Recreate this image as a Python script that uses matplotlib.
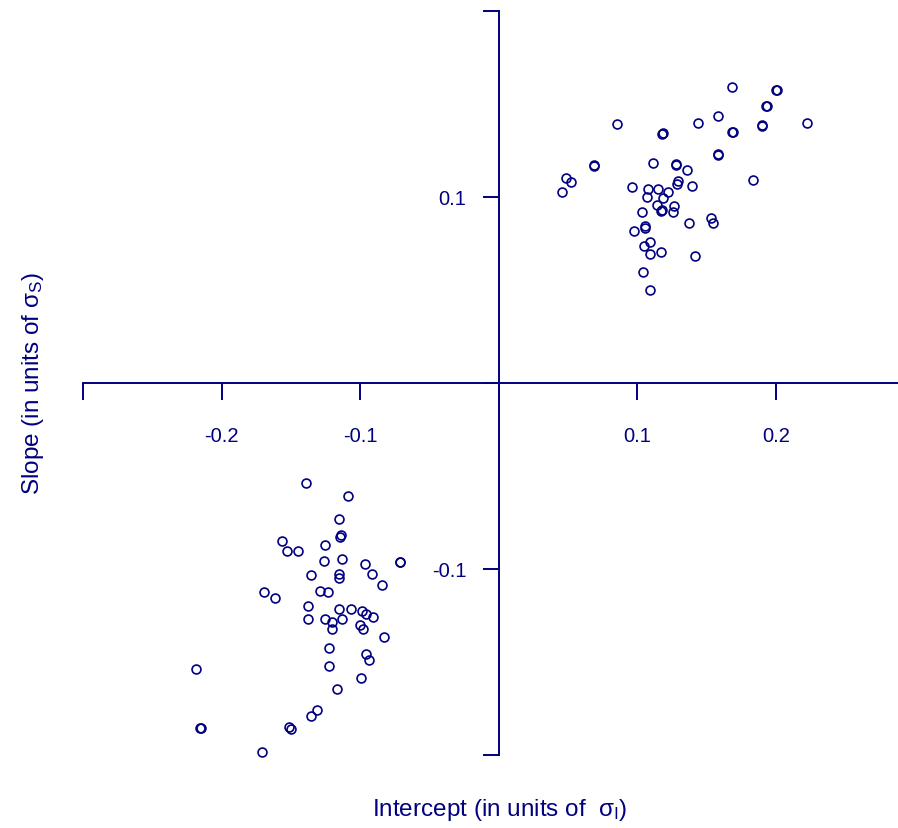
import numpy as np
import matplotlib.pyplot as plt

plt.rcParams['font.family'] = ['Liberation Sans', 'DejaVu Sans']
plt.rcParams['mathtext.fontset'] = 'custom'
plt.rcParams['mathtext.rm'] = 'Liberation Sans'
plt.rcParams['mathtext.it'] = 'Liberation Sans'

NAVY = '#000080'

# upper-right cluster (intercept, slope)
pos_intercept = [0.1685, 0.2001, 0.2005, 0.1931, 0.1934, 0.0856, 0.1440, 0.1580, 0.2222,
                 0.1180, 0.1183, 0.1685, 0.1688, 0.1898, 0.1901, 0.1580, 0.1583,
                 0.0685, 0.0689, 0.0482, 0.0518, 0.0458, 0.1113, 0.1277, 0.1280,
                 0.1359, 0.1837, 0.1296, 0.1286, 0.1392, 0.0962, 0.1079, 0.1152,
                 0.1219, 0.1066, 0.1185, 0.1144, 0.1266, 0.1175, 0.1169, 0.1254,
                 0.1032, 0.1369, 0.1532, 0.1544, 0.0974, 0.1056, 0.1052, 0.1094,
                 0.1050, 0.1089, 0.1171, 0.1414, 0.1043, 0.1089]
pos_slope = [0.1590, 0.1574, 0.1576, 0.1486, 0.1489, 0.1390, 0.1398, 0.1434, 0.1398,
             0.1337, 0.1340, 0.1347, 0.1350, 0.1382, 0.1385, 0.1225, 0.1228,
             0.1166, 0.1168, 0.1102, 0.1077, 0.1025, 0.1182, 0.1171, 0.1174,
             0.1146, 0.1092, 0.1083, 0.1071, 0.1060, 0.1051, 0.1042, 0.1042,
             0.1024, 0.0997, 0.0992, 0.0956, 0.0952, 0.0929, 0.0922, 0.0918,
             0.0919, 0.0861, 0.0888, 0.0859, 0.0815, 0.0841, 0.0831, 0.0756,
             0.0737, 0.0693, 0.0703, 0.0684, 0.0598, 0.0501]

# lower-left cluster
neg_intercept = [-0.1393, -0.1087, -0.1157, -0.1138, -0.1147, -0.1566, -0.1532, -0.1453,
                 -0.1253, -0.1263, -0.1136, -0.0970, -0.0714, -0.0712, -0.0914, -0.0844,
                 -0.1356, -0.1157, -0.1157, -0.1696, -0.1616, -0.1289, -0.1234, -0.1381,
                 -0.1381, -0.1157, -0.1066, -0.0986, -0.0962, -0.0912, -0.1253, -0.1203,
                 -0.1134, -0.1205, -0.1006, -0.0981, -0.0831, -0.1227, -0.1227, -0.0960,
                 -0.0936, -0.0996, -0.1169, -0.2189, -0.1311, -0.1356, -0.2155, -0.2153,
                 -0.1513, -0.1499, -0.1708]
neg_slope = [-0.0536, -0.0606, -0.0730, -0.0816, -0.0826, -0.0850, -0.0902, -0.0902,
             -0.0869, -0.0955, -0.0945, -0.0973, -0.0962, -0.0964, -0.1025, -0.1086,
             -0.1034, -0.1025, -0.1047, -0.1122, -0.1156, -0.1120, -0.1122, -0.1200,
             -0.1269, -0.1216, -0.1216, -0.1224, -0.1245, -0.1261, -0.1270, -0.1286,
             -0.1269, -0.1321, -0.1304, -0.1321, -0.1364, -0.1426, -0.1521, -0.1458,
             -0.1487, -0.1584, -0.1643, -0.1539, -0.1756, -0.1792, -0.1853, -0.1855,
             -0.1851, -0.1860, -0.1985]

x_ticks = [-0.3, -0.2, -0.1, 0.0, 0.1, 0.2]
x_labels = ['', '-0.2', '-0.1', '', '0.1', '0.2']
y_ticks = [-0.2, -0.1, 0.0, 0.1, 0.2]
y_labels = ['', '-0.1', '', '0.1', '']

fig = plt.figure(figsize=(8.98, 8.29), dpi=100)
ax = fig.add_axes([0.0928, 0.0881, 0.9072, 0.8978])
xmax = 0.2881
ax.set_xlim(-0.3, xmax)
ax.set_ylim(-0.2, 0.2)

for xs, ys in [(pos_intercept, pos_slope), (neg_intercept, neg_slope)]:
    ax.plot(xs, ys, 'o', ms=6.4, mfc='none', mec=NAVY, mew=1.2, clip_on=False)

for side in ['top', 'right']:
    ax.spines[side].set_visible(False)
ax.spines['left'].set_position(('data', 0))
ax.spines['bottom'].set_position(('data', 0))
ax.spines['left'].set_bounds(-0.2, 0.2)
ax.spines['bottom'].set_bounds(-0.3, xmax)
for side in ['left', 'bottom']:
    ax.spines[side].set_color(NAVY)
    ax.spines[side].set_linewidth(1.4)

ax.set_xticks(x_ticks)
ax.set_xticklabels(x_labels)
ax.set_yticks(y_ticks)
ax.set_yticklabels(y_labels)
ax.tick_params(axis='x', direction='out', length=12.2, width=1.4, color=NAVY,
               labelcolor=NAVY, labelsize=14.5, pad=19)
ax.tick_params(axis='y', direction='out', length=11.5, width=1.4, color=NAVY,
               labelcolor=NAVY, labelsize=14.5, pad=12)

ax.set_xlabel(r'Intercept (in units of  $\sigma_\mathrm{I}$)', color=NAVY, fontsize=17.5)
ax.set_ylabel(r'Slope (in units of $\sigma_\mathrm{S}$)', color=NAVY, fontsize=17.5)
ax.xaxis.set_label_coords(0.5115, -0.0726)
ax.yaxis.set_label_coords(-0.0617, 0.5)
ax.xaxis.label.set_va('center')
ax.yaxis.label.set_va('center')

fig.savefig('out.png', dpi=100)
